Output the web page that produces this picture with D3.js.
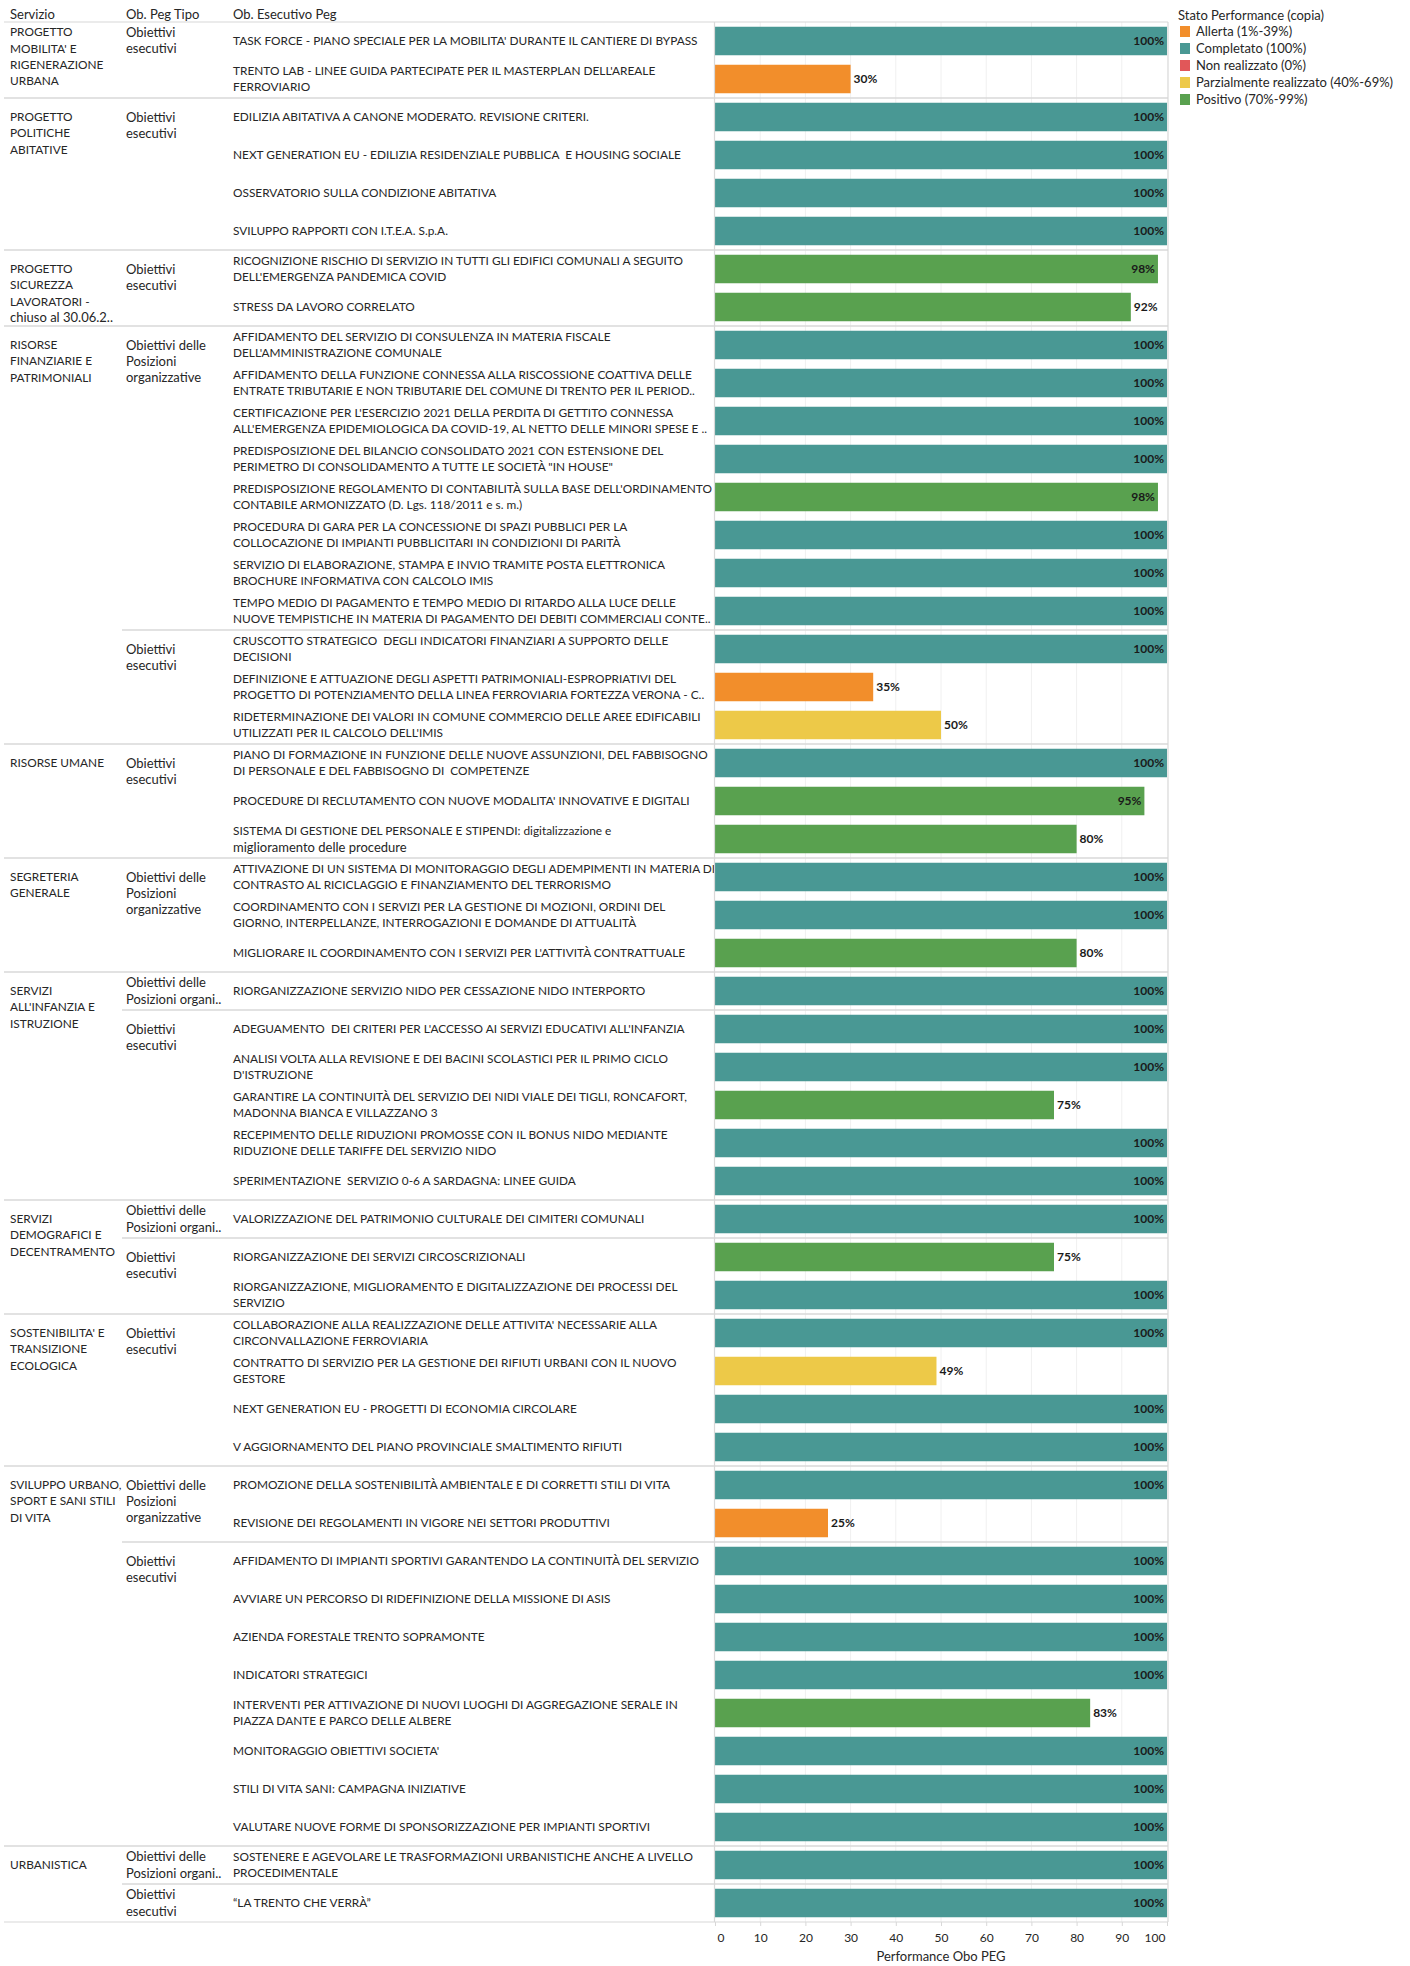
<!DOCTYPE html>
<html>
<head>
<meta charset="utf-8">
<script src="https://cdn.jsdelivr.net/npm/d3@7"></script>
<style>
  body { margin: 0; background: #fff; }
  svg text { font-family: Lato, "Open Sans", sans-serif; font-size: 11.85px; fill: #262626; white-space: pre; }
  svg text.mixed, svg tspan.mixed { font-size: 13px; }
</style>
</head>
<body>
<div id="chart"></div>
<script>
// --- data -------------------------------------------------------------
const servizi = [
  "PROGETTO\nMOBILITA' E\nRIGENERAZIONE\nURBANA",
  "PROGETTO\nPOLITICHE\nABITATIVE",
  "PROGETTO\nSICUREZZA\nLAVORATORI -\nchiuso al 30.06.2..",
  "RISORSE\nFINANZIARIE E\nPATRIMONIALI",
  "RISORSE UMANE",
  "SEGRETERIA\nGENERALE",
  "SERVIZI\nALL'INFANZIA E\nISTRUZIONE",
  "SERVIZI\nDEMOGRAFICI E\nDECENTRAMENTO",
  "SOSTENIBILITA' E\nTRANSIZIONE\nECOLOGICA",
  "SVILUPPO URBANO,\nSPORT E SANI STILI\nDI VITA",
  "URBANISTICA"
]

const OE = "Obiettivi\nesecutivi"
const PO = "Obiettivi delle\nPosizioni\norganizzative"
const PO1 = "Obiettivi delle\nPosizioni organi.."

// [servizio index, ob. peg tipo, number of objectives]
const tipoGroups = [
  [0, OE, 2], [1, OE, 4], [2, OE, 2], [3, PO, 8], [3, OE, 3], [4, OE, 3],
  [5, PO, 3], [6, PO1, 1], [6, OE, 5], [7, PO1, 1], [7, OE, 2], [8, OE, 4],
  [9, PO, 2], [9, OE, 8], [10, PO1, 1], [10, OE, 1]
]

const obiettivi = [
  "TASK FORCE - PIANO SPECIALE PER LA MOBILITA' DURANTE IL CANTIERE DI BYPASS",
  "TRENTO LAB - LINEE GUIDA PARTECIPATE PER IL MASTERPLAN DELL'AREALE\nFERROVIARIO",
  "EDILIZIA ABITATIVA A CANONE MODERATO. REVISIONE CRITERI.",
  "NEXT GENERATION EU - EDILIZIA RESIDENZIALE PUBBLICA  E HOUSING SOCIALE",
  "OSSERVATORIO SULLA CONDIZIONE ABITATIVA",
  "SVILUPPO RAPPORTI CON I.T.E.A. S.p.A.",
  "RICOGNIZIONE RISCHIO DI SERVIZIO IN TUTTI GLI EDIFICI COMUNALI A SEGUITO\nDELL'EMERGENZA PANDEMICA COVID",
  "STRESS DA LAVORO CORRELATO",
  "AFFIDAMENTO DEL SERVIZIO DI CONSULENZA IN MATERIA FISCALE\nDELL'AMMINISTRAZIONE COMUNALE",
  "AFFIDAMENTO DELLA FUNZIONE CONNESSA ALLA RISCOSSIONE COATTIVA DELLE\nENTRATE TRIBUTARIE E NON TRIBUTARIE DEL COMUNE DI TRENTO PER IL PERIOD..",
  "CERTIFICAZIONE PER L'ESERCIZIO 2021 DELLA PERDITA DI GETTITO CONNESSA\nALL'EMERGENZA EPIDEMIOLOGICA DA COVID-19, AL NETTO DELLE MINORI SPESE E ..",
  "PREDISPOSIZIONE DEL BILANCIO CONSOLIDATO 2021 CON ESTENSIONE DEL\nPERIMETRO DI CONSOLIDAMENTO A TUTTE LE SOCIETÀ \"IN HOUSE\"",
  "PREDISPOSIZIONE REGOLAMENTO DI CONTABILITÀ SULLA BASE DELL'ORDINAMENTO\nCONTABILE ARMONIZZATO (D. Lgs. 118/2011 e s. m.)",
  "PROCEDURA DI GARA PER LA CONCESSIONE DI SPAZI PUBBLICI PER LA\nCOLLOCAZIONE DI IMPIANTI PUBBLICITARI IN CONDIZIONI DI PARITÀ",
  "SERVIZIO DI ELABORAZIONE, STAMPA E INVIO TRAMITE POSTA ELETTRONICA\nBROCHURE INFORMATIVA CON CALCOLO IMIS",
  "TEMPO MEDIO DI PAGAMENTO E TEMPO MEDIO DI RITARDO ALLA LUCE DELLE\nNUOVE TEMPISTICHE IN MATERIA DI PAGAMENTO DEI DEBITI COMMERCIALI CONTE..",
  "CRUSCOTTO STRATEGICO  DEGLI INDICATORI FINANZIARI A SUPPORTO DELLE\nDECISIONI",
  "DEFINIZIONE E ATTUAZIONE DEGLI ASPETTI PATRIMONIALI-ESPROPRIATIVI DEL\nPROGETTO DI POTENZIAMENTO DELLA LINEA FERROVIARIA FORTEZZA VERONA - C..",
  "RIDETERMINAZIONE DEI VALORI IN COMUNE COMMERCIO DELLE AREE EDIFICABILI\nUTILIZZATI PER IL CALCOLO DELL'IMIS",
  "PIANO DI FORMAZIONE IN FUNZIONE DELLE NUOVE ASSUNZIONI, DEL FABBISOGNO\nDI PERSONALE E DEL FABBISOGNO DI  COMPETENZE",
  "PROCEDURE DI RECLUTAMENTO CON NUOVE MODALITA' INNOVATIVE E DIGITALI",
  "SISTEMA DI GESTIONE DEL PERSONALE E STIPENDI: digitalizzazione e\nmiglioramento delle procedure",
  "ATTIVAZIONE DI UN SISTEMA DI MONITORAGGIO DEGLI ADEMPIMENTI IN MATERIA DI\nCONTRASTO AL RICICLAGGIO E FINANZIAMENTO DEL TERRORISMO",
  "COORDINAMENTO CON I SERVIZI PER LA GESTIONE DI MOZIONI, ORDINI DEL\nGIORNO, INTERPELLANZE, INTERROGAZIONI E DOMANDE DI ATTUALITÀ",
  "MIGLIORARE IL COORDINAMENTO CON I SERVIZI PER L'ATTIVITÀ CONTRATTUALE",
  "RIORGANIZZAZIONE SERVIZIO NIDO PER CESSAZIONE NIDO INTERPORTO",
  "ADEGUAMENTO  DEI CRITERI PER L'ACCESSO AI SERVIZI EDUCATIVI ALL'INFANZIA",
  "ANALISI VOLTA ALLA REVISIONE E DEI BACINI SCOLASTICI PER IL PRIMO CICLO\nD'ISTRUZIONE",
  "GARANTIRE LA CONTINUITÀ DEL SERVIZIO DEI NIDI VIALE DEI TIGLI, RONCAFORT,\nMADONNA BIANCA E VILLAZZANO 3",
  "RECEPIMENTO DELLE RIDUZIONI PROMOSSE CON IL BONUS NIDO MEDIANTE\nRIDUZIONE DELLE TARIFFE DEL SERVIZIO NIDO",
  "SPERIMENTAZIONE  SERVIZIO 0-6 A SARDAGNA: LINEE GUIDA",
  "VALORIZZAZIONE DEL PATRIMONIO CULTURALE DEI CIMITERI COMUNALI",
  "RIORGANIZZAZIONE DEI SERVIZI CIRCOSCRIZIONALI",
  "RIORGANIZZAZIONE, MIGLIORAMENTO E DIGITALIZZAZIONE DEI PROCESSI DEL\nSERVIZIO",
  "COLLABORAZIONE ALLA REALIZZAZIONE DELLE ATTIVITA' NECESSARIE ALLA\nCIRCONVALLAZIONE FERROVIARIA",
  "CONTRATTO DI SERVIZIO PER LA GESTIONE DEI RIFIUTI URBANI CON IL NUOVO\nGESTORE",
  "NEXT GENERATION EU - PROGETTI DI ECONOMIA CIRCOLARE",
  "V AGGIORNAMENTO DEL PIANO PROVINCIALE SMALTIMENTO RIFIUTI",
  "PROMOZIONE DELLA SOSTENIBILITÀ AMBIENTALE E DI CORRETTI STILI DI VITA",
  "REVISIONE DEI REGOLAMENTI IN VIGORE NEI SETTORI PRODUTTIVI",
  "AFFIDAMENTO DI IMPIANTI SPORTIVI GARANTENDO LA CONTINUITÀ DEL SERVIZIO",
  "AVVIARE UN PERCORSO DI RIDEFINIZIONE DELLA MISSIONE DI ASIS",
  "AZIENDA FORESTALE TRENTO SOPRAMONTE",
  "INDICATORI STRATEGICI",
  "INTERVENTI PER ATTIVAZIONE DI NUOVI LUOGHI DI AGGREGAZIONE SERALE IN\nPIAZZA DANTE E PARCO DELLE ALBERE",
  "MONITORAGGIO OBIETTIVI SOCIETA'",
  "STILI DI VITA SANI: CAMPAGNA INIZIATIVE",
  "VALUTARE NUOVE FORME DI SPONSORIZZAZIONE PER IMPIANTI SPORTIVI",
  "SOSTENERE E AGEVOLARE LE TRASFORMAZIONI URBANISTICHE ANCHE A LIVELLO\nPROCEDIMENTALE",
  "\u201cLA TRENTO CHE VERRÀ\u201d"
]

const performance = [
  100, 30,
  100, 100, 100, 100,
  98, 92,
  100, 100, 100, 100, 98, 100, 100, 100,
  100, 35, 50,
  100, 95, 80,
  100, 100, 80,
  100,
  100, 100, 75, 100, 100,
  100,
  75, 100,
  100, 49, 100, 100,
  100, 25,
  100, 100, 100, 100, 83, 100, 100, 100,
  100,
  100
]

const stati = ["Allerta (1%-39%)", "Completato (100%)", "Non realizzato (0%)",
  "Parzialmente realizzato (40%-69%)", "Positivo (70%-99%)"]
const statoColors = ["#f28e2b", "#499894", "#e15759", "#edc948", "#59a14f"]

const headers = ["Servizio", "Ob. Peg Tipo", "Ob. Esecutivo Peg"]
const xTicks = [0, 10, 20, 30, 40, 50, 60, 70, 80, 90, 100]

// --- layout -----------------------------------------------------------
const width = 1410
const height = 1966
const topY = 22
const bottomY = 1922
const plotLeft = 715
const plotRight = 1167
const colX = [10, 126, 233]
const lineH = 16.3
const lineColor = '#d8d8d8'

const x = d3.scaleLinear().domain([0, 100]).range([plotLeft, plotRight])
const y = d3.scaleBand().domain(d3.range(obiettivi.length))
  .range([topY, bottomY]).paddingInner(0.25).paddingOuter(0.125)
const step = y.step()
const rowTop = i => topY + i * step

const color = d3.scaleOrdinal().domain(stati).range(statoColors)
function stato(v) {
  if (v === 0) return stati[2]
  if (v < 40) return stati[0]
  if (v < 70) return stati[3]
  if (v < 100) return stati[4]
  return stati[1]
}

// lines that are mostly lower case are set a bit larger (the original font has wide lower case)
function isMixed(s) {
  const lower = (s.match(/[a-zà-ù]/g) || []).length
  const upper = (s.match(/[A-ZÀ-Ù]/g) || []).length
  return lower > upper
}

const svg = d3.select('#chart').append('svg')
  .attr('width', width)
  .attr('height', height)

function writeLines(g, text, tx, yFirst) {
  const lines = text.split('\n')
  const t = g.append('text')
  lines.forEach((l, i) => {
    t.append('tspan')
      .attr('class', isMixed(l) ? 'mixed' : null)
      .attr('x', tx).attr('y', yFirst + i * lineH).attr('dy', '0.35em').text(l)
  })
  return t
}

// where the first line of a header sits inside its cell
function firstLineY(cellTop, cellBottom, text) {
  const n = text.split('\n').length
  const rows = Math.round((cellBottom - cellTop) / step)
  const rc = cellTop + step / 2
  if (rows === 1) return rc - (n - 1) * lineH / 2
  const truncated = text.endsWith('..')
  if (truncated || rc - lineH / 2 + n * lineH <= cellBottom - 2) return rc
  return cellTop + 2 + lineH / 2
}

// gridlines
svg.append('g')
  .selectAll('line')
  .data(xTicks.slice(1, -1))
  .join('line')
  .attr('x1', d => x(d)).attr('x2', d => x(d))
  .attr('y1', topY).attr('y2', bottomY)
  .attr('stroke', '#f0f0f0')

// axis
const xAxis = d3.axisBottom(x).tickValues(xTicks).tickSize(4).tickPadding(7)
const axisG = svg.append('g')
  .attr('transform', `translate(0, ${bottomY})`)
  .call(xAxis)
axisG.select('.domain').remove()
axisG.selectAll('.tick line').attr('stroke', lineColor)
axisG.selectAll('.tick text')
  .style('font-size', '12px')
  .attr('text-anchor', d => d === 0 ? 'start' : (d === 100 ? 'end' : 'middle'))
  .attr('dx', d => d === 0 ? 2 : (d === 100 ? -2 : 0))

svg.append('text')
  .attr('class', 'mixed')
  .attr('x', (plotLeft + plotRight) / 2)
  .attr('y', 1956)
  .attr('dy', '0.35em')
  .attr('text-anchor', 'middle')
  .text('Performance Obo PEG')

// bars
const barG = svg.append('g')
barG.selectAll('rect')
  .data(performance)
  .join('rect')
  .attr('x', x(0))
  .attr('y', (d, i) => y(i))
  .attr('width', d => x(d) - x(0))
  .attr('height', y.bandwidth())
  .attr('fill', d => color(stato(d)))

// value labels: outside the bar if they fit, otherwise inside
barG.selectAll('text')
  .data(performance)
  .join('text')
  .attr('y', (d, i) => y(i) + y.bandwidth() / 2)
  .attr('dy', '0.35em')
  .style('font-weight', 700)
  .style('font-size', '12px')
  .style('fill', '#1a1a1a')
  .text(d => d + '%')
  .each(function(d) {
    const w = this.getComputedTextLength()
    const end = x(d)
    if (end + 3 + w <= plotRight) {
      d3.select(this).attr('x', end + 3).attr('text-anchor', 'start')
    } else {
      d3.select(this).attr('x', end - 3).attr('text-anchor', 'end')
    }
  })

// objective labels, centred on their row
const labelG = svg.append('g')
obiettivi.forEach((t, i) => {
  const n = t.split('\n').length
  writeLines(labelG, t, colX[2], y(i) + y.bandwidth() / 2 - (n - 1) * lineH / 2)
})

// headers, separators
const sepG = svg.append('g')
let row = 0
let prevServ = -1
let servStartY = 0
let servTopAligned = false
tipoGroups.forEach(([s, tipo, count]) => {
  const cellTop = rowTop(row)
  if (s !== prevServ) {
    const servRows = d3.sum(tipoGroups.filter(g => g[0] === s), g => g[2])
    const servBottom = rowTop(row + servRows)
    servStartY = firstLineY(cellTop, servBottom, servizi[s])
    servTopAligned = servRows > 1 && servStartY < cellTop + step / 2 - 1
    writeLines(labelG, servizi[s], colX[0], servStartY)
    if (row > 0) {
      sepG.append('line').attr('x1', 4).attr('x2', plotRight + 1)
        .attr('y1', cellTop).attr('y2', cellTop)
        .attr('stroke', lineColor).attr('stroke-width', 1.6)
    }
  } else {
    sepG.append('line').attr('x1', 122).attr('x2', plotRight + 1)
      .attr('y1', cellTop).attr('y2', cellTop)
      .attr('stroke', lineColor).attr('stroke-width', 1.6)
  }
  const cellBottom = rowTop(row + count)
  let ty = firstLineY(cellTop, cellBottom, tipo)
  if (s !== prevServ && servTopAligned) ty = servStartY
  writeLines(labelG, tipo, colX[1], ty)
  prevServ = s
  row += count
})

// frame
sepG.append('line').attr('x1', 4).attr('x2', plotRight + 1).attr('y1', topY).attr('y2', topY)
  .attr('stroke', lineColor).attr('stroke-width', 1.2)
sepG.append('line').attr('x1', 4).attr('x2', plotRight + 1).attr('y1', bottomY).attr('y2', bottomY)
  .attr('stroke', lineColor).attr('stroke-width', 1.2)
sepG.append('line').attr('x1', plotLeft - 0.5).attr('x2', plotLeft - 0.5).attr('y1', topY).attr('y2', bottomY)
  .attr('stroke', lineColor).attr('stroke-width', 1.2)
sepG.append('line').attr('x1', plotRight + 1).attr('x2', plotRight + 1).attr('y1', topY).attr('y2', bottomY)
  .attr('stroke', lineColor).attr('stroke-width', 1.2)

// column headers
svg.append('g').selectAll('text')
  .data(headers)
  .join('text')
  .attr('class', 'mixed')
  .attr('x', (d, i) => colX[i])
  .attr('y', 14)
  .attr('dy', '0.35em')
  .text(d => d)

// legend
const legend = svg.append('g').attr('transform', 'translate(1178, 0)')
legend.append('text').attr('class', 'mixed')
  .attr('x', 0).attr('y', 15).attr('dy', '0.35em').text('Stato Performance (copia)')
const item = legend.selectAll('g.item')
  .data(stati)
  .join('g')
  .attr('class', 'item')
  .attr('transform', (d, i) => `translate(0, ${31.5 + i * 17})`)
item.append('rect').attr('x', 2).attr('y', -5.5).attr('width', 10).attr('height', 11)
  .attr('fill', d => color(d))
item.append('text').attr('class', 'mixed').attr('x', 18).attr('dy', '0.35em').text(d => d)
</script>
</body>
</html>
